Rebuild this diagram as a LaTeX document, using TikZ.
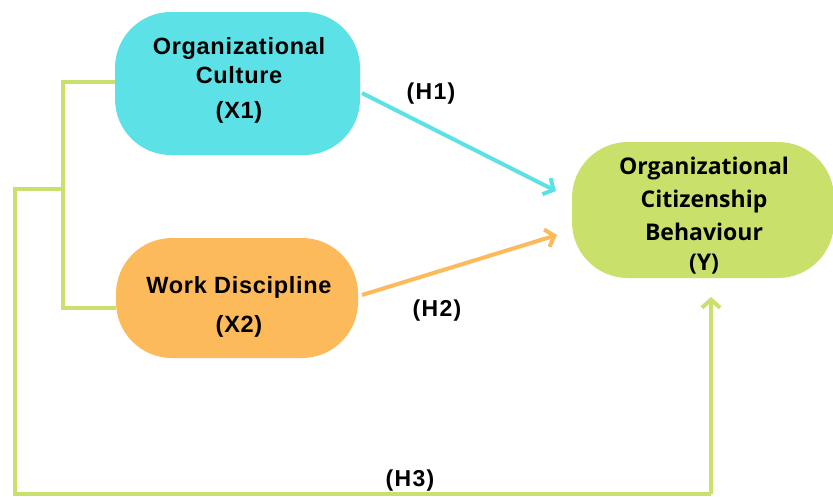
\documentclass[tikz,border=0pt]{standalone}
\usepackage{fontspec}
\setmainfont{Liberation Sans}
\newfontfamily\ocbfont{Open Sans}
\newfontfamily\widefont[LetterSpace=3]{Liberation Sans}
\newfontfamily\hypfont[LetterSpace=6]{Liberation Sans}
\usetikzlibrary{arrows.meta}
\definecolor{cultcyan}{HTML}{5CE1E6}
\definecolor{discorange}{HTML}{FDBA5A}
\definecolor{ocbgreen}{HTML}{C9E16B}
\definecolor{linkgreen}{HTML}{C9E06C}
\tikzset{
  varbox/.style={rectangle, rounded corners=56pt, inner sep=0pt},
  vartext/.style={align=center, inner sep=0pt, font=\widefont\bfseries\fontsize{23.5}{29}\selectfont},
  hyp/.style={inner sep=0pt, font=\hypfont\bfseries\fontsize{23}{26}\selectfont},
  link/.style={draw=linkgreen, line width=4pt},
  path arrow/.style={line width=4pt, -{Straight Barb[length=8pt,width=18pt,line width=4pt]}},
}
\begin{document}
\begin{tikzpicture}[x=1pt,y=-1pt]
\useasboundingbox[fill=white] (0,0) rectangle (833,496);

% variable boxes
\node[varbox, fill=cultcyan, minimum width=245pt, minimum height=143pt] (x1) at (237.5,83.5) {};
\node[varbox, fill=discorange, minimum width=242pt, minimum height=120pt] (x2) at (237,298) {};
\node[varbox, fill=ocbgreen, minimum width=262pt, minimum height=136pt] (y) at (703,210) {};

% box captions (anchored at the baseline of their last line)
\node[vartext, anchor=base] (x1t) at (239,118) {Organizational\\Culture\\[6pt](X1)};
\node[vartext, anchor=base] (x2t) at (239,332) {Work Discipline\\[10pt](X2)};
\node[align=center, inner sep=0pt, anchor=base, font=\ocbfont\bfseries\fontsize{23}{33}\selectfont] (yt) at (704,270)
  {Organizational\\Citizenship\\Behaviour\\[-3pt](Y)};

% joint links on the left
\coordinate (j1) at (63,82);
\coordinate (j2) at (63,308);
\coordinate (jm) at (63,189);
\coordinate (o1) at (15,189);
\coordinate (o2) at (15,494);
\coordinate (o3) at (711,494);
\coordinate (ytip) at (711,297);
\draw[link] (x1.west |- j1) -- (j1) -- (j2) -- (x2.west |- j2);
\draw[link] (jm) -- (o1) -- (o2) -- (o3);
\draw[link, path arrow] (o3) -- (ytip);

% direct paths
\coordinate (h1s) at (362,93);
\coordinate (h1e) at (556,191);
\coordinate (h2s) at (362,295);
\coordinate (h2e) at (557,235);
\draw[path arrow, draw=cultcyan] (h1s) -- (h1e);
\draw[path arrow, draw=discorange] (h2s) -- (h2e);

% hypothesis labels
\node[hyp] (h1) at (431,94) {(H1)};
\node[hyp] (h2) at (437,311) {(H2)};
\node[hyp] (h3) at (410,481) {(H3)};
\end{tikzpicture}
\end{document}
